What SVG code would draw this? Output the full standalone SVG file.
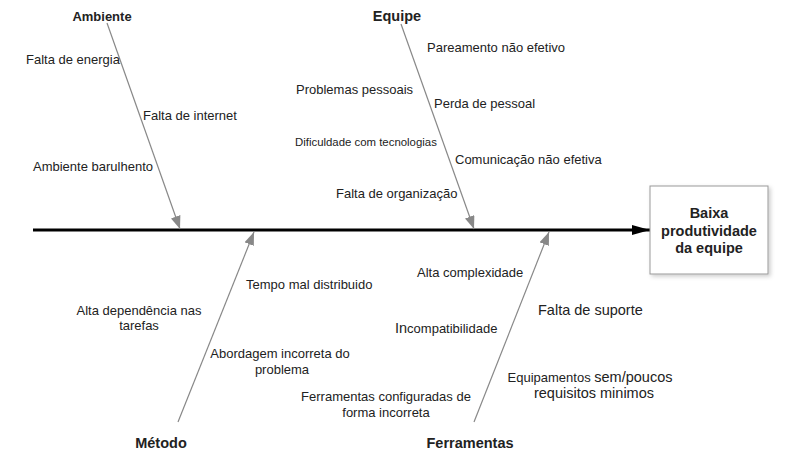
<svg xmlns="http://www.w3.org/2000/svg" width="785" height="467" viewBox="0 0 785 467">
<style>
text{font-family:"Liberation Sans",Arial,sans-serif;fill:#222;}
.l{font-size:13px;}
.t{font-size:14.5px;font-weight:bold;}
.c{text-anchor:middle;}
.br{stroke:#888;stroke-width:1.2;fill:none;}
</style>
<defs>
<marker id="ga" markerUnits="userSpaceOnUse" markerWidth="14" markerHeight="10" refX="13" refY="5" orient="auto">
<path d="M0,0 L13,5 L0,10 Z" fill="#888"/>
</marker>
<marker id="ba" markerUnits="userSpaceOnUse" markerWidth="20" markerHeight="12" refX="18" refY="6" orient="auto">
<path d="M0,1 L18,6 L0,11 Z" fill="#000"/>
</marker>
<filter id="sh" x="-10%" y="-10%" width="130%" height="130%">
<feDropShadow dx="2" dy="2" stdDeviation="2" flood-color="#000" flood-opacity="0.2"/>
</filter>
</defs>
<g id="connectors">
<line x1="33" y1="230" x2="650" y2="230" stroke="#000" stroke-width="3.2" marker-end="url(#ba)"/>
<line class="br" x1="107" y1="23" x2="180" y2="229" marker-end="url(#ga)"/>
<line class="br" x1="401" y1="24" x2="474" y2="229" marker-end="url(#ga)"/>
<line class="br" x1="178" y1="422" x2="254" y2="232" marker-end="url(#ga)"/>
<line class="br" x1="474" y1="422" x2="549" y2="232" marker-end="url(#ga)"/>
</g>
<g id="effect">
<rect x="650" y="186" width="118" height="88" fill="#fff" stroke="#999" stroke-width="1" filter="url(#sh)"/>
<text class="t c" x="709" y="218">Baixa</text>
<text class="t c" x="709" y="236">produtividade</text>
<text class="t c" x="709" y="253">da equipe</text>
</g>
<g id="ambiente">
<text class="c" x="102" y="21" style="font-size:13px;font-weight:bold">Ambiente</text>
<text class="l" x="26" y="63.5">Falta de energia</text>
<text class="l" x="143" y="119.5">Falta de internet</text>
<text class="l" x="33" y="170.5">Ambiente barulhento</text>
</g>
<g id="equipe">
<text class="t c" x="397" y="21">Equipe</text>
<text class="l" x="427" y="51.5">Pareamento não efetivo</text>
<text class="l" x="296" y="93.5">Problemas pessoais</text>
<text class="l" x="434" y="107.5">Perda de pessoal</text>
<text x="295" y="146" style="font-size:11.4px">Dificuldade com tecnologias</text>
<text class="l" x="455" y="163.5">Comunicação não efetiva</text>
<text class="l" x="336" y="197.5">Falta de organização</text>
</g>
<g id="metodo">
<text class="t c" x="161" y="448">Método</text>
<text class="l" x="246" y="288.5">Tempo mal distribuido</text>
<text class="l c" x="139" y="314.5">Alta dependência nas</text>
<text class="l c" x="139" y="329.5">tarefas</text>
<text class="l c" x="280" y="357.5">Abordagem incorreta do</text>
<text class="l c" x="282" y="373.5">problema</text>
</g>
<g id="ferramentas">
<text class="t c" x="470" y="448">Ferramentas</text>
<text class="l" x="417" y="277">Alta complexidade</text>
<text x="538" y="315" style="font-size:14.5px">Falta de suporte</text>
<text class="l" x="395" y="332.5"><tspan style="font-size:14.5px">In</tspan>compatibilidade</text>
<text class="l c" x="590" y="382"><tspan>Equipamentos </tspan><tspan style="font-size:14.5px">sem/poucos</tspan></text>
<text class="c" x="594" y="398" style="font-size:14.5px">requisitos minimos</text>
<text class="l c" x="386" y="400.5">Ferramentas configuradas de</text>
<text class="l c" x="386" y="416.5">forma incorreta</text>
</g>
</svg>
